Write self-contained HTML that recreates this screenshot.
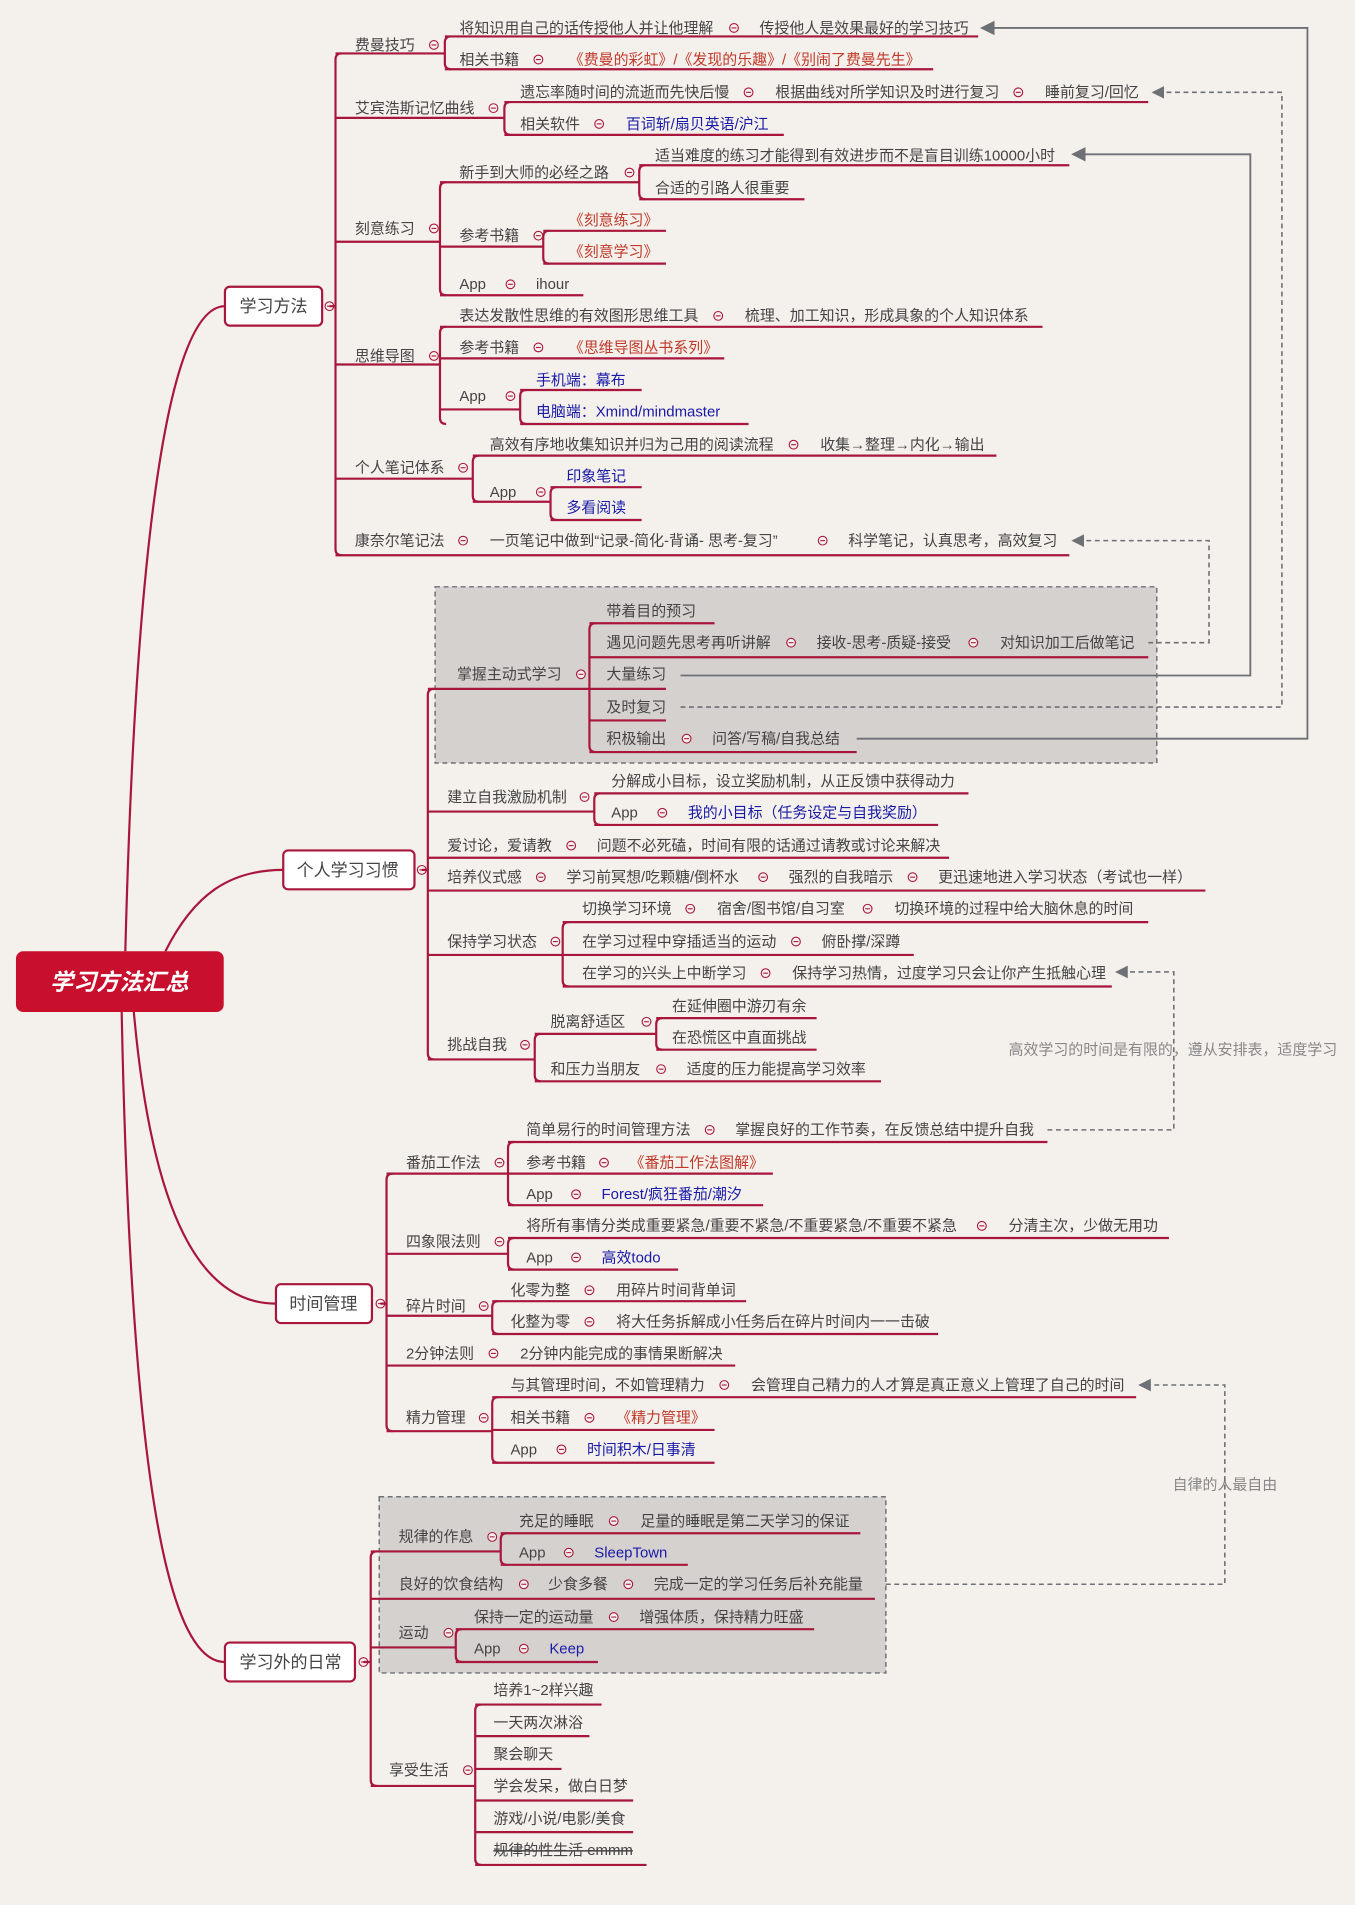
<!DOCTYPE html>
<html><head><meta charset="utf-8"><style>
html,body{margin:0;padding:0;background:#f4f0eb;}
svg{display:block;}
text{font-family:"Liberation Sans","Noto Sans CJK SC",sans-serif;font-size:12.3px;fill:#444;}
.r{fill:#c0392b;}
.b{fill:#1a1aa8;}
.g{fill:#888;}
.l{fill:none;stroke:#a8163c;stroke-width:1.8;}
.gs{fill:none;stroke:#6d7075;stroke-width:1.5;}
.gd{fill:none;stroke:#6d7075;stroke-width:1.3;stroke-dasharray:4 3;}
</style></head><body>
<svg width="1355" height="1905" viewBox="0 0 1115 1568" xmlns="http://www.w3.org/2000/svg">
<defs>
<g id="c"><circle r="3.6" fill="#f4f0eb" stroke="#a8163c" stroke-width="0.9"/><line x1="-2" x2="2" y1="0" y2="0" stroke="#a8163c" stroke-width="0.9"/></g>
<marker id="ar" markerWidth="8" markerHeight="8" refX="7" refY="4" orient="auto"><path d="M0,0 L8,4 L0,8 z" fill="#6d7075"/></marker>
</defs>
<rect width="1115" height="1568" fill="#f4f0eb"/>

<!-- gray boxes -->
<rect x="358" y="483" width="594" height="145" fill="#d5d1cf" stroke="#6d7075" stroke-width="1.2" stroke-dasharray="4 3"/>
<rect x="312" y="1232" width="417" height="145" fill="#d5d1cf" stroke="#6d7075" stroke-width="1.2" stroke-dasharray="4 3"/>

<!-- central curves -->
<path class="l" d="M103,783 C112,430 140,252 185,252"/>
<path class="l" d="M136,783 C160,735 190,716 233,716"/>
<path class="l" d="M110,833 C125,1000 165,1073 227,1073"/>
<path class="l" d="M100,833 C108,1230 140,1368 185,1368"/>

<rect x="13" y="783" width="171" height="50" rx="6" fill="#c8102e"/>
<text x="98" y="815" text-anchor="middle" style="font-size:19px;font-weight:bold;font-style:italic;fill:#fff">学习方法汇总</text>

<!-- ===== 学习方法 ===== -->
<rect x="185" y="236" width="80" height="32" rx="4" fill="#fff" stroke="#a8163c" stroke-width="1.8"/>
<text x="197" y="257" style="font-size:14px">学习方法</text>
<use href="#c" x="271" y="252"/>
<path class="l" d="M271,252 H276 M281,44 Q276,44 276,49 V452 Q276,457 281,457"/>

<text x="292" y="41">费曼技巧</text><use href="#c" x="357" y="37"/>
<path class="l" d="M276,44 H366 M371,30 Q366,30 366,35 V52 Q366,57 371,57"/>
<text x="378" y="27">将知识用自己的话传授他人并让他理解</text><use href="#c" x="604" y="23"/><text x="625" y="27">传授他人是效果最好的学习技巧</text>
<path class="l" d="M366,30 H805"/>
<text x="378" y="53">相关书籍</text><use href="#c" x="443" y="49"/><text x="468" y="53" class="r">《费曼的彩虹》/《发现的乐趣》/《别闹了费曼先生》</text>
<path class="l" d="M366,57 H768"/>

<text x="292" y="93">艾宾浩斯记忆曲线</text><use href="#c" x="406" y="89"/>
<path class="l" d="M276,97 H415 M420,84 Q415,84 415,89 V106 Q415,111 420,111"/>
<text x="428" y="80">遗忘率随时间的流逝而先快后慢</text><use href="#c" x="616" y="76"/><text x="638" y="80">根据曲线对所学知识及时进行复习</text><use href="#c" x="838" y="76"/><text x="860" y="80">睡前复习/回忆</text>
<path class="l" d="M415,84 H945"/>
<text x="428" y="106">相关软件</text><use href="#c" x="493" y="102"/><text x="515" y="106" class="b">百词斩/扇贝英语/沪江</text>
<path class="l" d="M415,111 H645"/>

<text x="292" y="192">刻意练习</text><use href="#c" x="357" y="188"/>
<path class="l" d="M276,199 H362 M367,150 Q362,150 362,155 V238 Q362,243 367,243"/>
<text x="378" y="146">新手到大师的必经之路</text><use href="#c" x="518" y="142"/>
<path class="l" d="M362,150 H526 M531,136 Q526,136 526,141 V159 Q526,164 531,164"/>
<text x="539" y="132">适当难度的练习才能得到有效进步而不是盲目训练10000小时</text>
<path class="l" d="M526,136 H880"/>
<text x="539" y="159">合适的引路人很重要</text>
<path class="l" d="M526,164 H662"/>
<text x="378" y="198">参考书籍</text><use href="#c" x="443" y="194"/>
<path class="l" d="M362,203 H447 M452,190 Q447,190 447,195 V212 Q447,217 452,217"/>
<text x="468" y="185" class="r">《刻意练习》</text><path class="l" d="M447,190 H548"/>
<text x="468" y="211" class="r">《刻意学习》</text><path class="l" d="M447,217 H548"/>
<text x="378" y="238">App</text><use href="#c" x="420" y="234"/><text x="441" y="238">ihour</text>
<path class="l" d="M362,243 H480"/>

<text x="292" y="297">思维导图</text><use href="#c" x="357" y="293"/>
<path class="l" d="M276,300 H362 M367,269 Q362,269 362,274 V344 Q362,349 367,349"/>
<text x="378" y="264">表达发散性思维的有效图形思维工具</text><use href="#c" x="591" y="260"/><text x="613" y="264">梳理、加工知识，形成具象的个人知识体系</text>
<path class="l" d="M362,269 H858"/>
<text x="378" y="290">参考书籍</text><use href="#c" x="443" y="286"/><text x="468" y="290" class="r">《思维导图丛书系列》</text>
<path class="l" d="M362,295 H596"/>
<text x="378" y="330">App</text><use href="#c" x="420" y="326"/>
<path class="l" d="M362,337 H428 M433,321 Q428,321 428,326 V344 Q428,349 433,349"/>
<text x="441" y="317" class="b">手机端：幕布</text><path class="l" d="M428,321 H528"/>
<text x="441" y="343" class="b">电脑端：Xmind/mindmaster</text><path class="l" d="M428,349 H616"/>

<text x="292" y="389">个人笔记体系</text><use href="#c" x="381" y="385"/>
<path class="l" d="M276,394 H389 M394,375 Q389,375 389,380 V408 Q389,413 394,413"/>
<text x="403" y="370">高效有序地收集知识并归为己用的阅读流程</text><use href="#c" x="653" y="366"/><text x="675" y="370">收集→整理→内化→输出</text>
<path class="l" d="M389,375 H820"/>
<text x="403" y="409">App</text><use href="#c" x="445" y="405"/>
<path class="l" d="M389,413 H453 M458,401 Q453,401 453,406 V423 Q453,428 458,428"/>
<text x="466" y="396" class="b">印象笔记</text><path class="l" d="M453,401 H528"/>
<text x="466" y="422" class="b">多看阅读</text><path class="l" d="M453,428 H528"/>

<text x="292" y="449">康奈尔笔记法</text><use href="#c" x="381" y="445"/><text x="403" y="449">一页笔记中做到“记录-简化-背诵- 思考-复习”</text><use href="#c" x="677" y="445"/><text x="698" y="449">科学笔记，认真思考，高效复习</text>
<path class="l" d="M276,457 H880"/>

<!-- ===== 个人学习习惯 ===== -->
<rect x="233" y="700" width="108" height="32" rx="4" fill="#fff" stroke="#a8163c" stroke-width="1.8"/>
<text x="244" y="721" style="font-size:14px">个人学习习惯</text>
<use href="#c" x="347" y="716"/>
<path class="l" d="M347,716 H352 M357,567 Q352,567 352,572 V867 Q352,872 357,872"/>

<text x="376" y="559">掌握主动式学习</text><use href="#c" x="478" y="555"/>
<path class="l" d="M352,567 H485 M490,513 Q485,513 485,518 V614 Q485,619 490,619"/>
<text x="499" y="507">带着目的预习</text><path class="l" d="M485,513 H588"/>
<text x="499" y="533">遇见问题先思考再听讲解</text><use href="#c" x="651" y="529"/><text x="672" y="533">接收-思考-质疑-接受</text><use href="#c" x="801" y="529"/><text x="823" y="533">对知识加工后做笔记</text>
<path class="l" d="M485,541 H945"/>
<text x="499" y="559">大量练习</text><path class="l" d="M485,567 H548"/>
<text x="499" y="586">及时复习</text><path class="l" d="M485,593 H548"/>
<text x="499" y="612">积极输出</text><use href="#c" x="565" y="608"/><text x="586" y="612">问答/写稿/自我总结</text>
<path class="l" d="M485,619 H705"/>

<text x="368" y="660">建立自我激励机制</text><use href="#c" x="481" y="656"/>
<path class="l" d="M352,668 H489 M494,653 Q489,653 489,658 V674 Q489,679 494,679"/>
<text x="503" y="647">分解成小目标，设立奖励机制，从正反馈中获得动力</text><path class="l" d="M489,653 H797"/>
<text x="503" y="673">App</text><use href="#c" x="545" y="669"/><text x="566" y="673" class="b">我的小目标（任务设定与自我奖励）</text>
<path class="l" d="M489,679 H772"/>

<text x="368" y="700">爱讨论，爱请教</text><use href="#c" x="470" y="696"/><text x="491" y="700">问题不必死磕，时间有限的话通过请教或讨论来解决</text>
<path class="l" d="M352,706 H781"/>

<text x="368" y="726">培养仪式感</text><use href="#c" x="445" y="722"/><text x="466" y="726">学习前冥想/吃颗糖/倒杯水</text><use href="#c" x="628" y="722"/><text x="649" y="726">强烈的自我暗示</text><use href="#c" x="751" y="722"/><text x="772" y="726">更迅速地进入学习状态（考试也一样）</text>
<path class="l" d="M352,733 H992"/>

<text x="368" y="779">保持学习状态</text><use href="#c" x="457" y="775"/>
<path class="l" d="M352,786 H463 M468,759 Q463,759 463,764 V807 Q463,812 468,812"/>
<text x="479" y="752">切换学习环境</text><use href="#c" x="568" y="748"/><text x="590" y="752">宿舍/图书馆/自习室</text><use href="#c" x="714" y="748"/><text x="736" y="752">切换环境的过程中给大脑休息的时间</text>
<path class="l" d="M463,759 H945"/>
<text x="479" y="779">在学习过程中穿插适当的运动</text><use href="#c" x="655" y="775"/><text x="676" y="779">俯卧撑/深蹲</text>
<path class="l" d="M463,786 H752"/>
<text x="479" y="805">在学习的兴头上中断学习</text><use href="#c" x="630" y="801"/><text x="652" y="805">保持学习热情，过度学习只会让你产生抵触心理</text>
<path class="l" d="M463,812 H915"/>

<text x="368" y="864">挑战自我</text><use href="#c" x="432" y="860"/>
<path class="l" d="M352,872 H440 M445,851 Q440,851 440,856 V885 Q440,890 445,890"/>
<text x="453" y="845">脱离舒适区</text><use href="#c" x="532" y="841"/>
<path class="l" d="M440,851 H540 M545,838 Q540,838 540,843 V859 Q540,864 545,864"/>
<text x="553" y="832">在延伸圈中游刃有余</text><path class="l" d="M540,838 H672"/>
<text x="553" y="858">在恐慌区中直面挑战</text><path class="l" d="M540,864 H672"/>
<text x="453" y="884">和压力当朋友</text><use href="#c" x="544" y="880"/><text x="565" y="884">适度的压力能提高学习效率</text>
<path class="l" d="M440,890 H725"/>
<text x="830" y="868" class="g">高效学习的时间是有限的，遵从安排表，适度学习</text>

<!-- ===== 时间管理 ===== -->
<rect x="227" y="1057" width="79" height="32" rx="4" fill="#fff" stroke="#a8163c" stroke-width="1.8"/>
<text x="238" y="1078" style="font-size:14px">时间管理</text>
<use href="#c" x="313" y="1073"/>
<path class="l" d="M313,1073 H318 M323,966 Q318,966 318,971 V1173 Q318,1178 323,1178"/>

<text x="334" y="961">番茄工作法</text><use href="#c" x="411" y="957"/>
<path class="l" d="M318,966 H418 M423,940 Q418,940 418,945 V987 Q418,992 423,992"/>
<text x="433" y="934">简单易行的时间管理方法</text><use href="#c" x="584" y="930"/><text x="605" y="934">掌握良好的工作节奏，在反馈总结中提升自我</text>
<path class="l" d="M418,940 H862"/>
<text x="433" y="961">参考书籍</text><use href="#c" x="497" y="957"/><text x="518" y="961" class="r">《番茄工作法图解》</text>
<path class="l" d="M418,966 H636"/>
<text x="433" y="987">App</text><use href="#c" x="474" y="983"/><text x="495" y="987" class="b">Forest/疯狂番茄/潮汐</text>
<path class="l" d="M418,992 H628"/>

<text x="334" y="1026">四象限法则</text><use href="#c" x="411" y="1022"/>
<path class="l" d="M318,1032 H418 M423,1019 Q418,1019 418,1024 V1040 Q418,1045 423,1045"/>
<text x="433" y="1013">将所有事情分类成重要紧急/重要不紧急/不重要紧急/不重要不紧急</text><use href="#c" x="808" y="1009"/><text x="830" y="1013">分清主次，少做无用功</text>
<path class="l" d="M418,1019 H962"/>
<text x="433" y="1039">App</text><use href="#c" x="474" y="1035"/><text x="495" y="1039" class="b">高效todo</text>
<path class="l" d="M418,1045 H558"/>

<text x="334" y="1079">碎片时间</text><use href="#c" x="398" y="1075"/>
<path class="l" d="M318,1083 H405 M410,1071 Q405,1071 405,1076 V1093 Q405,1098 410,1098"/>
<text x="420" y="1066">化零为整</text><use href="#c" x="485" y="1062"/><text x="507" y="1066">用碎片时间背单词</text>
<path class="l" d="M405,1071 H614"/>
<text x="420" y="1092">化整为零</text><use href="#c" x="485" y="1088"/><text x="507" y="1092">将大任务拆解成小任务后在碎片时间内一一击破</text>
<path class="l" d="M405,1098 H772"/>

<text x="334" y="1118">2分钟法则</text><use href="#c" x="406" y="1114"/><text x="428" y="1118">2分钟内能完成的事情果断解决</text>
<path class="l" d="M318,1124 H605"/>

<text x="334" y="1171">精力管理</text><use href="#c" x="398" y="1167"/>
<path class="l" d="M318,1178 H405 M410,1150 Q405,1150 405,1155 V1199 Q405,1204 410,1204"/>
<text x="420" y="1144">与其管理时间，不如管理精力</text><use href="#c" x="596" y="1140"/><text x="618" y="1144">会管理自己精力的人才算是真正意义上管理了自己的时间</text>
<path class="l" d="M405,1150 H935"/>
<text x="420" y="1171">相关书籍</text><use href="#c" x="485" y="1167"/><text x="507" y="1171" class="r">《精力管理》</text>
<path class="l" d="M405,1177 H588"/>
<text x="420" y="1197">App</text><use href="#c" x="462" y="1193"/><text x="483" y="1197" class="b">时间积木/日事清</text>
<path class="l" d="M405,1204 H588"/>
<text x="965" y="1226" class="g">自律的人最自由</text>

<!-- ===== 学习外的日常 ===== -->
<rect x="185" y="1352" width="107" height="32" rx="4" fill="#fff" stroke="#a8163c" stroke-width="1.8"/>
<text x="197" y="1373" style="font-size:14px">学习外的日常</text>
<use href="#c" x="299" y="1368"/>
<path class="l" d="M299,1368 H305 M310,1277 Q305,1277 305,1282 V1465 Q305,1470 310,1470"/>

<text x="328" y="1269">规律的作息</text><use href="#c" x="405" y="1265"/>
<path class="l" d="M305,1277 H412 M417,1262 Q412,1262 412,1267 V1283 Q412,1288 417,1288"/>
<text x="427" y="1256">充足的睡眠</text><use href="#c" x="505" y="1252"/><text x="527" y="1256">足量的睡眠是第二天学习的保证</text>
<path class="l" d="M412,1262 H708"/>
<text x="427" y="1282">App</text><use href="#c" x="468" y="1278"/><text x="489" y="1282" class="b">SleepTown</text>
<path class="l" d="M412,1288 H566"/>

<text x="328" y="1308">良好的饮食结构</text><use href="#c" x="431" y="1304"/><text x="451" y="1308">少食多餐</text><use href="#c" x="517" y="1304"/><text x="538" y="1308">完成一定的学习任务后补充能量</text>
<path class="l" d="M305,1316 H720"/>

<text x="328" y="1348">运动</text><use href="#c" x="369" y="1344"/>
<path class="l" d="M305,1356 H375 M380,1341 Q375,1341 375,1346 V1363 Q375,1368 380,1368"/>
<text x="390" y="1335">保持一定的运动量</text><use href="#c" x="505" y="1331"/><text x="526" y="1335">增强体质，保持精力旺盛</text>
<path class="l" d="M375,1341 H670"/>
<text x="390" y="1361">App</text><use href="#c" x="431" y="1357"/><text x="452" y="1361" class="b">Keep</text>
<path class="l" d="M375,1368 H492"/>

<text x="320" y="1461">享受生活</text><use href="#c" x="385" y="1457"/>
<path class="l" d="M305,1470 H391 M396,1403 Q391,1403 391,1408 V1530 Q391,1535 396,1535"/>
<text x="406" y="1395">培养1~2样兴趣</text><path class="l" d="M391,1403 H495"/>
<text x="406" y="1422">一天两次淋浴</text><path class="l" d="M391,1429 H485"/>
<text x="406" y="1448">聚会聊天</text><path class="l" d="M391,1456 H462"/>
<text x="406" y="1474">学会发呆，做白日梦</text><path class="l" d="M391,1482 H521"/>
<text x="406" y="1501">游戏/小说/电影/美食</text><path class="l" d="M391,1508 H521"/>
<text x="406" y="1527" style="text-decoration:line-through">规律的性生活 emmm</text><path class="l" d="M391,1535 H532"/>

<!-- gray relation lines -->
<path class="gs" d="M705,608 H1076 V23 H808" marker-end="url(#ar)"/>
<path class="gs" d="M560,556 H1029 V127 H883" marker-end="url(#ar)"/>
<path class="gd" d="M560,582 H1055 V76 H949" marker-end="url(#ar)"/>
<path class="gd" d="M945,529 H995 V445 H883" marker-end="url(#ar)"/>
<path class="gd" d="M862,930 H966 V800 H919" marker-end="url(#ar)"/>
<path class="gd" d="M729,1304 H1008 V1140 H938" marker-end="url(#ar)"/>
</svg>
</body></html>
